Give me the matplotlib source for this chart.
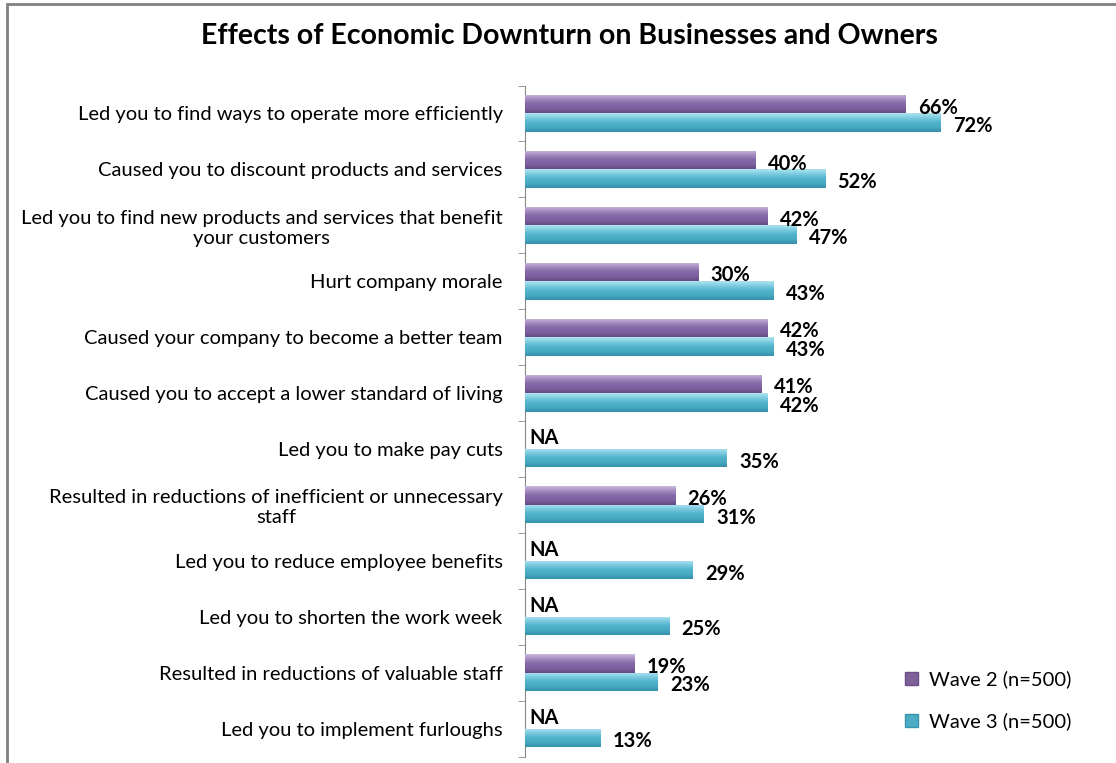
import matplotlib
matplotlib.use("Agg")
import matplotlib.pyplot as plt
import numpy as np
from matplotlib.patches import Patch, Rectangle
from matplotlib.colors import LinearSegmentedColormap

plt.rcParams['font.family'] = ['Lato', 'DejaVu Sans']

# data
categories = [
    "Led you to find ways to operate more efficiently",
    "Caused you to discount products and services",
    "Led you to find new products and services that benefit\nyour customers",
    "Hurt company morale",
    "Caused your company to become a better team",
    "Caused you to accept a lower standard of living",
    "Led you to make pay cuts",
    "Resulted in reductions of inefficient or unnecessary\nstaff",
    "Led you to reduce employee benefits",
    "Led you to shorten the work week",
    "Resulted in reductions of valuable staff",
    "Led you to implement furloughs",
]
wave2 = [66, 40, 42, 30, 42, 41, np.nan, 26, np.nan, np.nan, 19, np.nan]
wave3 = [72, 52, 47, 43, 43, 42, 35, 31, 29, 25, 23, 13]
series_names = ["Wave 2 (n=500)", "Wave 3 (n=500)"]
title = "Effects of Economic Downturn on Businesses and Owners"

purple = "#7F629C"
teal = "#4BACC6"
# first colour = top edge of the bar, last = bottom edge
purple_grad = LinearSegmentedColormap.from_list("p", ["#CBBBDD", "#A38CC0", "#8569A8", "#7C5F9E", "#664A82"])
teal_grad = LinearSegmentedColormap.from_list("t", ["#B0E4F1", "#7CCBE0", "#52B2CB", "#48A9C3", "#3590A8"])

fig = plt.figure(figsize=(11.16, 7.63), dpi=100)
ax = fig.add_axes([0.4704, 0.0085, 0.4136, 0.8794])

y = np.arange(len(categories))
h = 0.33
w2 = np.nan_to_num(wave2)
bars2 = ax.barh(y - h / 2, w2, height=h, color=purple, zorder=2)
bars3 = ax.barh(y + h / 2, wave3, height=h, color=teal, zorder=2)

# vertical gradient on each bar
grad = np.linspace(0, 1, 64).reshape(-1, 1)
for bars, cmap in [(bars2, purple_grad), (bars3, teal_grad)]:
    for b in bars:
        if b.get_width() <= 0:
            continue
        x0, y0 = b.get_x(), b.get_y()
        im = ax.imshow(grad, cmap=cmap, aspect='auto', origin='upper',
                       extent=[x0, x0 + b.get_width(), y0 + b.get_height(), y0],
                       zorder=3, interpolation='bicubic')
        im.set_clip_path(b)

ax.set_xlim(0, 80)
ax.set_ylim(len(categories) - 0.5, -0.5)

# value labels
for i, (a, b) in enumerate(zip(wave2, wave3)):
    if np.isnan(a):
        ax.annotate("NA", (0, i - h / 2), xytext=(3, 1), textcoords='offset points',
                    ha='left', va='center', fontsize=14.5, fontweight='bold')
    else:
        ax.annotate(f"{a:.0f}%", (a, i - h / 2), xytext=(9, -2.5), textcoords='offset points',
                    ha='left', va='center', fontsize=14.5, fontweight='bold')
    ax.annotate(f"{b:.0f}%", (b, i + h / 2), xytext=(9, -2.5), textcoords='offset points',
                ha='left', va='center', fontsize=14.5, fontweight='bold')

ax.set_yticks(y)
ax.set_yticklabels(categories, fontsize=14.5)
for lab in ax.get_yticklabels():
    lab.set_multialignment('center')
ax.set_yticks(np.arange(len(categories) + 1) - 0.5, minor=True)
ax.tick_params(axis='y', which='major', length=0, pad=16)
ax.tick_params(axis='y', which='minor', length=5, color='#888888', direction='out')
ax.set_xticks([])
for s in ['top', 'right', 'bottom']:
    ax.spines[s].set_visible(False)
ax.spines['left'].set_color('#888888')

fig.text(0.51, 0.953, title, ha='center', va='center', fontsize=20.5, fontweight='bold')

handles = [Patch(facecolor=purple, edgecolor='#6A4E86'), Patch(facecolor=teal, edgecolor='#3893AB')]
fig.legend(handles, series_names, loc='upper left', bbox_to_anchor=(0.795, 0.145),
           frameon=False, fontsize=14.5, handlelength=0.65, handleheight=0.65,
           handletextpad=0.5, labelspacing=1.2)

# outer frame of the original chart
fig.patches.append(Rectangle((7 / 1116, -0.1), 1.2, 1.1 - 4 / 763, transform=fig.transFigure,
                             fill=False, edgecolor='#808080', linewidth=2))

fig.savefig("out.png", dpi=100)
